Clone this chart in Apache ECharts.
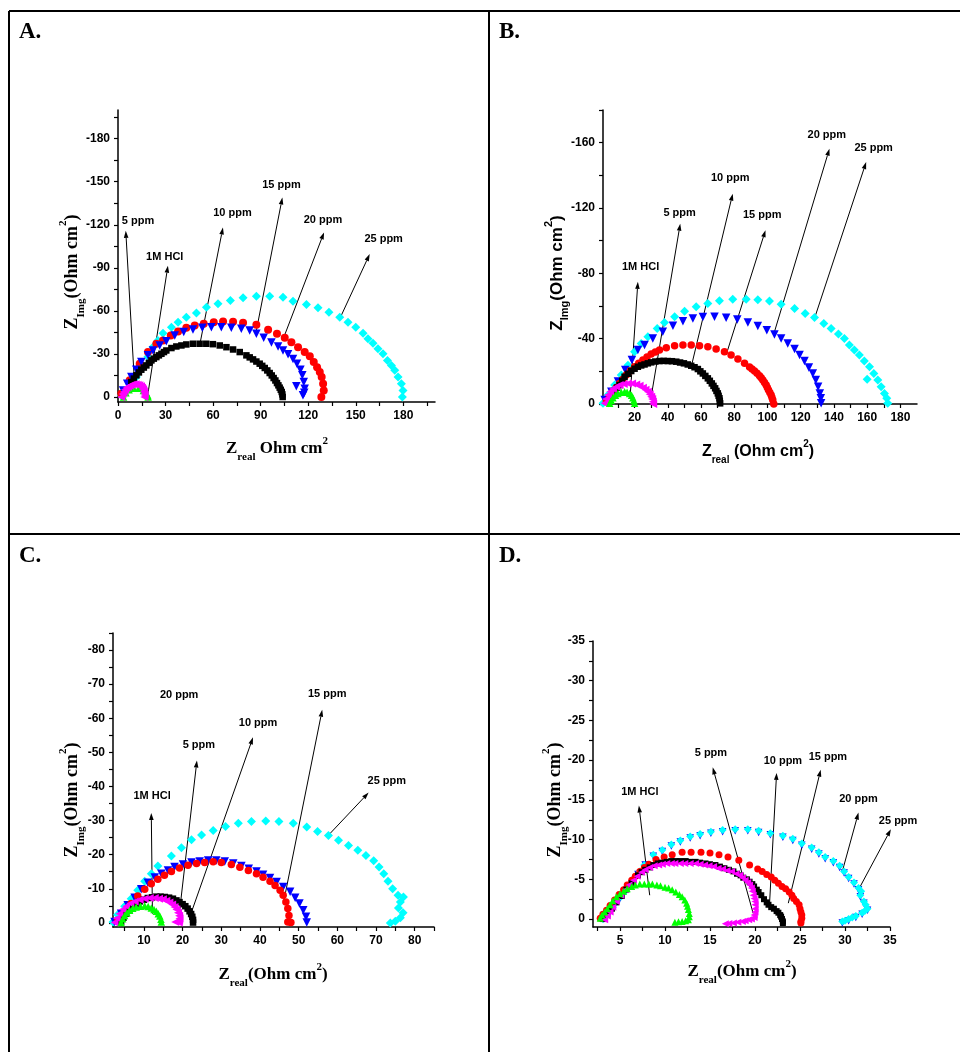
<!DOCTYPE html>
<html>
<head>
<meta charset="utf-8">
<script src="https://cdn.jsdelivr.net/npm/echarts@6/dist/echarts.min.js"></script>
<style>
  html, body { margin: 0; padding: 0; background: #fff; }
  #chart { width: 960px; height: 1052px; }
</style>
</head>
<body>
<div id="chart"></div>
<script>
// ---- Panel A data: [Zreal, Zimg] ----
var a_hcl = [[3.5,0],[5,-3],[7,-5],[10,-6],[13,-6],[16,-4.5],[18,-2.5],[18.8,-1],[19,0]];
var a_5ppm = [[2.1,0],[2.8,-2],[3.6,-3.5],[4.4,-5],[5.3,-6.3],[6.3,-7.2],[7.4,-7.9],[8.6,-8.5],[9.9,-8.8],[11.2,-8.8],[12.4,-8.6],[13.5,-8.1],[14.5,-7.4],[15.2,-6.4],[15.8,-5.3],[16.3,-4.0],[16.6,-2.8],[16.8,-1.4],[16.6,0]];
var a_10ppm = [[8.4,-10.4],[10.0,-12.8],[11.6,-15.1],[13.2,-17.1],[14.7,-19.0],[16.3,-20.5],[17.9,-22.0],[19.5,-23.8],[21.1,-25.5],[22.6,-26.7],[24.2,-27.8],[25.8,-29.0],[27.4,-30.1],[29.0,-31.3],[30.5,-32.4],[33.7,-34.1],[36.8,-35.2],[40.0,-35.9],[43.1,-36.6],[47.3,-37.1],[51.5,-37.1],[55.7,-37.1],[59.9,-36.8],[64.2,-35.9],[68.4,-34.7],[72.6,-33.1],[76.8,-31.3],[81.0,-29.0],[83.1,-27.6],[85.2,-26.2],[87.3,-24.7],[89.4,-23.2],[91.0,-21.7],[92.6,-20.2],[94.2,-18.5],[95.7,-16.7],[97.0,-15.0],[98.2,-13.2],[99.3,-11.5],[100.3,-9.7],[101.2,-8.1],[102.0,-6.5],[102.7,-5.0],[103.3,-3.5],[103.7,-1.8],[103.9,0]];
var a_15ppm = [[3.2,-4.6],[5.8,-9.2],[8.4,-13.9],[11.5,-19.0],[14.7,-24.3],[18.9,-29.0],[22.1,-32.4],[26.3,-35.9],[30.5,-38.9],[35.8,-42.9],[41.5,-45.2],[47.3,-47.0],[53.2,-48.2],[58.9,-48.6],[65.2,-48.6],[71.5,-48.2],[77.8,-47.5],[83.1,-46.3],[87.3,-44.0],[91.9,-41.2],[96.8,-38.0],[101.0,-35.2],[104.1,-32.4],[107.3,-29.7],[110.4,-26.4],[112.9,-23.2],[115.1,-19.0],[116.3,-15.1],[117.2,-10.4],[117.8,-5.8],[117.5,-3.0],[116.7,-1.2],[112.5,-7.4]];
var a_20ppm = [[2.1,-2.3],[7.4,-11.6],[13.7,-23.2],[18.9,-31.3],[24.2,-37.1],[28.4,-39.4],[33.3,-42.9],[37.9,-45.6],[43.1,-48.2],[48.4,-49.8],[54.1,-51.0],[60.4,-52.1],[66.3,-52.6],[72.6,-52.4],[78.9,-51.7],[87.3,-50.3],[94.7,-46.8],[100.3,-44.0],[105.2,-41.2],[109.4,-38.2],[113.6,-34.7],[117.8,-31.3],[121.0,-28.3],[123.5,-24.3],[125.6,-20.8],[127.3,-17.4],[128.5,-13.9],[129.4,-9.3],[129.8,-4.6],[128.3,0]];
var a_25ppm = [[2.1,-1.2],[4.2,-3.6],[7.4,-7.0],[11.6,-13.9],[15.8,-20.9],[18.9,-28.0],[22.1,-34.8],[25.2,-39.4],[28.4,-44.5],[33.7,-48.6],[37.9,-52.1],[43.1,-55.6],[49.5,-58.6],[55.8,-62.5],[63.1,-64.9],[70.9,-67.2],[78.9,-69.1],[87.3,-70.2],[95.7,-70.2],[104.1,-69.5],[110.4,-66.7],[118.9,-64.4],[126.2,-62.1],[133.1,-59.1],[139.9,-55.6],[145.1,-52.1],[150.0,-48.6],[154.6,-44.5],[157.7,-40.6],[160.9,-37.5],[164.0,-33.6],[167.2,-30.2],[170.0,-25.5],[172.5,-22.0],[174.6,-18.6],[176.7,-13.9],[178.8,-9.3],[179.8,-4.6],[179.4,0]];

// ---- Panel B data ----
var b_hcl = [[5.0,-0.4],[6.0,-2.2],[7.0,-3.9],[8.5,-5.3],[10.0,-6.5],[12.0,-7.2],[14.0,-7.5],[15.5,-7.2],[17.0,-6.5],[18.2,-5.3],[19.0,-3.9],[19.6,-2.2],[20.0,-0.4]];
var b_5ppm = [[2.0,-0.4],[2.8,-3.0],[4.0,-5.5],[5.4,-7.5],[7.0,-9.2],[9.0,-10.5],[11.0,-11.6],[13.5,-12.3],[16.0,-12.6],[18.5,-12.5],[21.0,-12.0],[23.0,-11.2],[25.0,-10.0],[26.6,-8.8],[28.0,-7.5],[29.1,-6.0],[30.0,-4.5],[30.6,-3.0],[31.0,-1.4],[31.2,0]];
var b_10ppm = [[8,-8],[9.5,-10],[11.0,-11.6],[12.5,-14.2],[14.0,-16.7],[16.0,-18.5],[18.0,-20.2],[20.0,-21.6],[22.0,-22.8],[24.0,-23.6],[26.0,-24.2],[28.0,-24.9],[30.0,-25.5],[32.5,-26.0],[35.0,-26.3],[37.5,-26.4],[40.0,-26.3],[42.5,-26.2],[45.1,-25.9],[47.4,-25.4],[49.7,-24.9],[52.0,-24.2],[54.1,-23.4],[56.1,-22.5],[58.1,-21.4],[59.6,-20.0],[61.1,-18.7],[62.6,-17.2],[64.1,-15.7],[65.3,-14.2],[66.5,-12.6],[67.5,-11.1],[68.5,-9.6],[69.3,-8.0],[70.1,-6.5],[70.6,-5.0],[71.1,-3.5],[71.3,-2.0],[71.5,-0.4]];
var b_15ppm = [[3.0,-1.4],[5.0,-4.5],[7.0,-7.5],[9.0,-10.1],[11.0,-12.6],[13.0,-15.2],[15.0,-17.7],[17.5,-20.3],[20.0,-22.8],[22.5,-25.0],[25.0,-26.9],[27.5,-28.8],[30.0,-30.6],[32.5,-31.9],[35.0,-33.0],[39.1,-34.4],[44.1,-35.7],[49.1,-36.1],[54.1,-36.1],[59.1,-35.7],[64.1,-35.0],[69.1,-33.6],[74.1,-32.0],[78.1,-30.0],[82.2,-27.5],[86.2,-24.9],[89.2,-22.6],[90.7,-21.4],[92.2,-20.2],[93.7,-18.8],[95.2,-17.3],[96.2,-16.0],[97.2,-14.7],[98.2,-13.2],[99.2,-11.6],[99.9,-10.1],[100.6,-8.6],[101.4,-7.0],[102.2,-5.5],[102.7,-4.0],[103.2,-2.4],[103.8,0]];
var b_20ppm = [[2.0,-2.4],[6.0,-7.5],[10.0,-13.7],[14.4,-20.8],[18.4,-26.9],[22.0,-33.0],[26.0,-36.1],[31.0,-40.1],[37.0,-44.2],[43.1,-47.9],[49.1,-50.7],[55.1,-52.4],[61.1,-53.2],[68.1,-53.4],[75.1,-52.8],[81.8,-51.8],[88.2,-49.9],[94.2,-47.7],[99.6,-45.2],[104.2,-42.6],[108.2,-40.1],[112.2,-37.1],[116.3,-33.6],[119.3,-30.0],[122.3,-26.3],[124.9,-22.4],[127.3,-18.7],[129.1,-14.7],[130.5,-10.6],[131.5,-6.5],[132.1,-3.5],[132.3,-0.4]];
var b_25ppm = [[1.0,-0.4],[4.0,-5.5],[8.0,-11.6],[12.0,-17.7],[16.0,-23.8],[20.0,-32.0],[24.0,-37.1],[28.0,-41.2],[33.6,-46.3],[38.0,-49.9],[44.1,-53.4],[50.1,-56.8],[57.1,-59.5],[64.1,-61.5],[71.1,-63.2],[79.1,-64.2],[87.2,-64.2],[94.2,-63.8],[101.2,-63.0],[108.2,-61.1],[116.3,-58.5],[122.7,-55.4],[128.3,-53.0],[133.9,-49.3],[138.3,-46.3],[142.7,-42.8],[146.3,-40.1],[149.3,-36.1],[152.3,-33.0],[155.3,-30.0],[158.3,-26.3],[161.4,-22.8],[164.0,-18.7],[166.4,-14.7],[168.4,-10.6],[170.4,-6.5],[171.8,-3.5],[172.4,-0.4],[160.0,-15.1]];

// ---- Panel C data ----
var c_hcl = [[4.1,-0.1],[4.5,-1.2],[5.0,-2.2],[5.6,-3.0],[6.3,-3.7],[7.1,-4.3],[8.0,-4.7],[9.1,-4.9],[10.2,-5.0],[11.1,-4.8],[11.9,-4.4],[12.6,-3.9],[13.2,-3.4],[13.7,-2.7],[14.1,-2.0],[14.4,-1.1],[14.5,-0.3]];
var c_5ppm = [[2.4,-0.1],[3.0,-1.4],[3.7,-2.7],[4.5,-3.9],[5.4,-4.9],[6.5,-5.7],[7.6,-6.3],[8.9,-6.8],[10.2,-7.1],[11.5,-7.3],[12.8,-7.3],[13.9,-7.1],[14.9,-6.9],[15.8,-6.5],[16.6,-6.0],[17.3,-5.4],[17.9,-4.7],[18.4,-3.9],[18.8,-3.0],[19.1,-2.1],[19.2,-1.3],[19.1,-0.6],[19.0,-0.1],[18.1,-0.3]];
var c_10ppm = [[4.1,-0.3],[4.7,-1.5],[5.4,-2.7],[6.2,-3.8],[7.1,-4.9],[8.0,-5.6],[8.9,-6.3],[10.0,-6.8],[11.0,-7.3],[12.1,-7.5],[13.2,-7.7],[14.3,-7.7],[15.4,-7.6],[16.5,-7.4],[17.5,-7.1],[18.4,-6.6],[19.2,-6.1],[20.0,-5.5],[20.7,-4.9],[21.3,-4.2],[21.8,-3.4],[22.2,-2.6],[22.5,-1.8],[22.7,-0.9],[22.7,-0.1]];
var c_15ppm = [[3.2,-0.8],[5.0,-3.2],[6.7,-5.7],[8.4,-7.9],[10.2,-9.9],[11.9,-11.5],[13.6,-12.8],[15.3,-14.0],[17.1,-15.1],[19.2,-16.1],[21.4,-16.9],[23.6,-17.4],[25.7,-17.7],[27.9,-17.9],[30.0,-17.7],[32.6,-17.1],[34.8,-16.3],[37.0,-15.4],[39.1,-14.4],[40.8,-13.4],[42.6,-12.2],[43.9,-11.0],[45.2,-9.6],[46.0,-8.1],[46.7,-6.1],[47.2,-4.2],[47.5,-2.2],[47.2,-0.3],[48.0,-0.1]];
var c_20ppm = [[2.4,-0.3],[4.1,-2.7],[5.8,-5.2],[7.6,-7.4],[9.3,-9.9],[11.0,-11.8],[12.8,-13.3],[14.5,-14.4],[16.2,-15.4],[17.9,-16.4],[20.1,-17.1],[22.3,-17.7],[24.4,-18.0],[26.6,-18.3],[28.7,-18.3],[30.9,-18.0],[33.1,-17.4],[35.2,-16.7],[37.1,-15.9],[39.1,-15.1],[40.8,-14.1],[42.6,-13.2],[44.3,-12.0],[46.0,-10.5],[47.8,-9.1],[49.1,-7.4],[50.2,-5.7],[51.2,-3.7],[51.9,-1.8],[52.1,-0.1]];
var c_25ppm = [[2.0,-0.3],[3.2,-2.4],[5.0,-4.9],[6.7,-7.1],[8.4,-9.6],[10.2,-12.2],[11.9,-14.4],[13.6,-16.7],[17.1,-19.6],[19.7,-22.0],[22.3,-24.4],[24.9,-25.8],[27.9,-27.1],[31.1,-28.3],[34.4,-29.2],[37.8,-29.7],[41.5,-29.9],[44.9,-29.7],[48.6,-29.2],[52.1,-28.1],[54.9,-26.8],[57.7,-25.6],[60.3,-24.2],[62.9,-22.7],[65.3,-21.3],[67.4,-19.8],[69.4,-18.2],[70.8,-16.4],[72.0,-14.4],[73.1,-12.2],[74.3,-10.0],[75.7,-8.1],[77.1,-7.6],[76.3,-6.1],[75.8,-4.4],[77.0,-3.0],[76.3,-1.5],[75.0,-0.5],[73.7,0]];

// ---- Panel D data ----
var d_hcl = [[2.8,-0.1],[3.0,-0.5],[3.3,-0.9],[3.6,-1.3],[3.9,-1.8],[4.2,-2.3],[4.6,-2.8],[5.0,-3.2],[5.4,-3.5],[5.8,-3.8],[6.3,-4.1],[6.7,-4.3],[7.2,-4.4],[7.7,-4.4],[8.2,-4.4],[8.6,-4.4],[9.1,-4.3],[9.5,-4.2],[10.0,-4.0],[10.4,-3.9],[10.8,-3.7],[11.2,-3.4],[11.6,-3.1],[11.9,-2.8],[12.2,-2.4],[12.4,-2.0],[12.5,-1.6],[12.6,-1.2],[12.7,-0.7],[12.7,-0.3],[12.6,0.1],[12.3,0.2],[11.9,0.3],[11.5,0.35],[11.1,0.4]];
var d_5ppm = [[3.3,0.1],[3.6,-0.4],[3.9,-0.9],[4.2,-1.5],[4.6,-2.2],[5.1,-3.0],[5.6,-3.7],[6.0,-4.3],[6.5,-4.9],[6.9,-5.4],[7.4,-5.9],[7.8,-6.2],[8.3,-6.5],[8.8,-6.7],[9.3,-6.8],[9.7,-6.9],[10.2,-7.0],[10.7,-7.0],[11.1,-7.0],[11.7,-7.0],[12.2,-7.0],[12.8,-7.0],[13.4,-7.0],[13.9,-6.9],[14.4,-6.8],[14.9,-6.7],[15.4,-6.6],[15.9,-6.4],[16.4,-6.3],[16.9,-6.1],[17.4,-6.0],[17.9,-5.7],[18.3,-5.5],[18.6,-5.2],[18.9,-4.9],[19.2,-4.6],[19.4,-4.3],[19.6,-3.9],[19.7,-3.5],[19.8,-3.0],[19.9,-2.6],[20.0,-2.2],[20.0,-1.8],[20.0,-1.3],[20.0,-0.9],[19.9,-0.5],[19.9,-0.2],[19.6,0],[19.3,0.1],[18.9,0.2],[18.6,0.3],[18.1,0.4],[17.6,0.5],[17.1,0.55],[16.7,0.6]];
var d_10ppm = [[3.1,0],[3.6,-0.6],[4.1,-1.3],[4.6,-2.1],[5.2,-2.9],[5.7,-3.7],[6.3,-4.5],[7.0,-5.5],[7.4,-5.9],[7.8,-6.2],[8.3,-6.5],[8.7,-6.8],[9.2,-7.0],[9.6,-7.1],[10.2,-7.2],[10.7,-7.3],[11.2,-7.3],[11.7,-7.3],[12.3,-7.3],[12.8,-7.2],[13.4,-7.2],[13.9,-7.1],[14.5,-7.0],[15.0,-6.9],[15.6,-6.8],[16.1,-6.6],[16.6,-6.4],[17.1,-6.2],[17.6,-6.0],[18.0,-5.7],[18.4,-5.5],[18.7,-5.2],[19.1,-5.0],[19.4,-4.7],[19.7,-4.4],[19.9,-4.1],[20.2,-3.7],[20.4,-3.4],[20.7,-3.0],[21.0,-2.5],[21.3,-2.1],[21.5,-1.8],[21.8,-1.5],[22.1,-1.3],[22.4,-1.0],[22.6,-0.8],[22.8,-0.5],[22.9,-0.3],[23.0,0],[23.1,0.3],[23.1,0.5]];
var d_15ppm = [[2.8,-0.1],[3.1,-0.6],[3.5,-1.1],[3.9,-1.7],[4.4,-2.4],[4.9,-3.1],[5.4,-3.7],[5.8,-4.3],[6.3,-4.9],[6.7,-5.4],[7.2,-6.0],[7.7,-6.5],[8.2,-6.9],[9.0,-7.5],[9.9,-7.8],[10.8,-8.1],[11.9,-8.4],[12.9,-8.4],[14.0,-8.4],[15.0,-8.3],[16.0,-8.1],[17.0,-7.8],[18.2,-7.4],[19.4,-6.8],[20.3,-6.3],[20.8,-6.0],[21.3,-5.6],[21.8,-5.3],[22.2,-4.9],[22.6,-4.5],[23.0,-4.1],[23.4,-3.8],[23.8,-3.4],[24.1,-3.0],[24.3,-2.6],[24.6,-2.2],[24.9,-1.8],[25.0,-1.3],[25.1,-0.9],[25.2,-0.5],[25.2,-0.1],[25.1,0.3],[25.1,0.5]];
var d_20ppm = [[3.2,0],[4.0,-1.2],[5.0,-2.6],[6.0,-4.1],[7.0,-5.6],[7.8,-6.8],[8.7,-7.9],[9.7,-8.5],[10.7,-9.2],[11.7,-9.7],[12.8,-10.2],[13.9,-10.5],[15.1,-10.8],[16.4,-11.0],[17.8,-11.1],[19.2,-11.1],[20.4,-10.9],[21.7,-10.6],[23.1,-10.3],[24.2,-9.9],[25.2,-9.3],[26.3,-8.8],[27.1,-8.2],[27.8,-7.6],[28.7,-7.1],[29.4,-6.5],[29.9,-5.8],[30.4,-5.1],[31.0,-4.4],[31.5,-3.7],[31.7,-2.8],[32.1,-2.0],[32.5,-1.1],[31.9,-0.6],[31.2,-0.2],[30.4,0.2],[29.7,0.5]];
var d_25ppm = [[3.1,0],[3.5,-0.5],[3.9,-1.0],[4.2,-1.5],[4.6,-2.1],[5.1,-2.8],[5.6,-3.5],[6.1,-4.4],[6.7,-5.3],[7.2,-6.0],[7.7,-6.8],[8.7,-8.1],[9.7,-8.7],[10.7,-9.4],[11.7,-9.9],[12.8,-10.4],[13.9,-10.7],[15.1,-11.0],[16.4,-11.2],[17.8,-11.3],[19.2,-11.3],[20.4,-11.1],[21.7,-10.8],[23.1,-10.5],[24.2,-10.1],[25.2,-9.5],[26.3,-9.0],[27.1,-8.4],[27.8,-7.8],[28.7,-7.3],[29.4,-6.7],[29.9,-6.0],[30.4,-5.3],[31.0,-4.6],[31.5,-3.9],[31.8,-3.5],[31.7,-3.0],[32.1,-2.2],[32.3,-1.8],[32.5,-1.3],[32.2,-1.0],[31.9,-0.8],[31.2,-0.4],[30.8,-0.2],[30.4,0],[30.0,0.2],[29.7,0.3]];

// ---- tick values ----
var ticksA_xLabels = [0, 30, 60, 90, 120, 150, 180];
var ticksA_x = [0, 15, 30, 45, 60, 75, 90, 105, 120, 135, 150, 165, 180, 195];
var ticksA_yLabels = [0, -30, -60, -90, -120, -150, -180];
var ticksA_y = [0, -15, -30, -45, -60, -75, -90, -105, -120, -135, -150, -165, -180, -195];
var ticksB_xLabels = [20, 40, 60, 80, 100, 120, 140, 160, 180];
var ticksB_x = [10, 20, 30, 40, 50, 60, 70, 80, 90, 100, 110, 120, 130, 140, 150, 160, 170, 180];
var ticksB_yLabels = [0, -40, -80, -120, -160];
var ticksB_y = [0, -20, -40, -60, -80, -100, -120, -140, -160, -180];
var ticksC_xLabels = [10, 20, 30, 40, 50, 60, 70, 80];
var ticksC_x = [5, 10, 15, 20, 25, 30, 35, 40, 45, 50, 55, 60, 65, 70, 75, 80, 85];
var ticksC_yLabels = [0, -10, -20, -30, -40, -50, -60, -70, -80];
var ticksC_y = [0, -5, -10, -15, -20, -25, -30, -35, -40, -45, -50, -55, -60, -65, -70, -75, -80, -85];
var ticksD_xLabels = [5, 10, 15, 20, 25, 30, 35];
var ticksD_x = [2.5, 5, 7.5, 10, 12.5, 15, 17.5, 20, 22.5, 25, 27.5, 30, 32.5, 35];
var ticksD_yLabels = [0, -5, -10, -15, -20, -25, -30, -35];
var ticksD_y = [0, -2.5, -5, -7.5, -10, -12.5, -15, -17.5, -20, -22.5, -25, -27.5, -30, -32.5, -35];

// ---- annotations: label text, label position, arrow from -> to (data units) ----
var notesA = [
  ['5 ppm', [12.6, -122.8], [10.5, -8.1], [4.9, -115.8]],
  ['1M HCl', [29.5, -97.3], [18.9, -2.4], [31.5, -91.5]],
  ['10 ppm', [72.2, -127.9], [51.5, -35.9], [66.2, -118.1]],
  ['15 ppm', [103.1, -147.8], [87.3, -46.3], [103.7, -139.0]],
  ['20 ppm', [129.3, -123.3], [104.5, -41.3], [130.0, -114.7]],
  ['25 ppm', [167.6, -110.1], [139.9, -54.5], [158.8, -99.6]]
];
var notesB = [
  ['1M HCl', [23.6, -83.9], [17.4, -5.5], [22.0, -74.8]],
  ['5 ppm', [47.1, -116.9], [30.0, -4.5], [47.5, -110.4]],
  ['10 ppm', [77.6, -138.3], [54.1, -22.8], [79.1, -128.8]],
  ['15 ppm', [96.8, -115.5], [75.1, -30.0], [98.8, -106.4]],
  ['20 ppm', [135.7, -164.8], [104.2, -44.2], [137.3, -156.3]],
  ['25 ppm', [163.9, -156.7], [128.3, -52.4], [159.4, -148.1]]
];
var notesC = [
  ['20 ppm', [19.1, -66.9], null, null],
  ['5 ppm', [24.2, -52.2], [19.1, -2.3], [23.7, -47.6]],
  ['1M HCl', [12.1, -37.2], [12.2, -2.7], [11.9, -32.2]],
  ['10 ppm', [39.5, -58.6], [22.3, -3.2], [38.2, -54.4]],
  ['15 ppm', [57.4, -67.1], [46.2, -6.6], [56.1, -62.5]],
  ['25 ppm', [72.8, -41.6], [57.7, -25.7], [68.1, -38.2]]
];
var notesD = [
  ['1M HCl', [7.2, -16.0], [8.3, -3.0], [7.1, -14.3]],
  ['5 ppm', [15.1, -20.9], [19.8, -0.7], [15.3, -19.1]],
  ['10 ppm', [23.1, -19.9], [21.6, -1.6], [22.4, -18.4]],
  ['15 ppm', [28.1, -20.4], [23.7, -2.0], [27.3, -18.8]],
  ['20 ppm', [31.5, -15.1], [29.7, -6.0], [31.5, -13.4]],
  ['25 ppm', [35.9, -12.3], [31.5, -3.7], [35.1, -11.3]]
];

// marker styles
var CYAN = '#00ffff', RED = '#ff0000', BLUE = '#0000ff', BLACK = '#000000', MAGENTA = '#ff00ff', GREEN = '#00ff00';
function mk(data, color, symbol, rotate, size) {
  return { data: data, color: color, symbol: symbol, rotate: rotate, size: size };
}

var panels = [
  {
    grid: { left: 118, top: 110, width: 317, height: 292 },
    x: { min: 0, max: 200, labels: ticksA_xLabels, ticks: ticksA_x },
    y: { min: -200, max: 3.5, labels: ticksA_yLabels, ticks: ticksA_y },
    series: [
      mk(a_25ppm, CYAN, 'diamond', 0, 9),
      mk(a_20ppm, RED, 'circle', 0, 8),
      mk(a_15ppm, BLUE, 'triangle', 180, 8.5),
      mk(a_10ppm, BLACK, 'rect', 0, 6.5),
      mk(a_hcl, GREEN, 'triangle', 0, 7.5),
      mk(a_5ppm, MAGENTA, 'triangle', 90, 8)
    ],
    notes: notesA
  },
  {
    grid: { left: 603, top: 110, width: 314, height: 294 },
    x: { min: 1, max: 190, labels: ticksB_xLabels, ticks: ticksB_x },
    y: { min: -180, max: 0, labels: ticksB_yLabels, ticks: ticksB_y },
    series: [
      mk(b_25ppm, CYAN, 'diamond', 0, 9),
      mk(b_20ppm, BLUE, 'triangle', 180, 8.5),
      mk(b_15ppm, RED, 'circle', 0, 7.5),
      mk(b_10ppm, BLACK, 'rect', 0, 6.5),
      mk(b_5ppm, MAGENTA, 'triangle', 90, 8),
      mk(b_hcl, GREEN, 'triangle', 0, 7.5)
    ],
    notes: notesB
  },
  {
    grid: { left: 113, top: 633, width: 321, height: 294 },
    x: { min: 2, max: 85, labels: ticksC_xLabels, ticks: ticksC_x },
    y: { min: -85, max: 1.2, labels: ticksC_yLabels, ticks: ticksC_y },
    series: [
      mk(c_25ppm, CYAN, 'diamond', 0, 9),
      mk(c_20ppm, BLUE, 'triangle', 180, 8.5),
      mk(c_15ppm, RED, 'circle', 0, 7.5),
      mk(c_10ppm, BLACK, 'rect', 0, 6.5),
      mk(c_5ppm, MAGENTA, 'triangle', 90, 8),
      mk(c_hcl, GREEN, 'triangle', 0, 7.5)
    ],
    notes: notesC
  },
  {
    grid: { left: 593, top: 641, width: 297, height: 286 },
    x: { min: 2, max: 35, labels: ticksD_xLabels, ticks: ticksD_x },
    y: { min: -35, max: 1, labels: ticksD_yLabels, ticks: ticksD_y },
    series: [
      mk(d_20ppm, BLUE, 'triangle', 180, 7.5),
      mk(d_25ppm, CYAN, 'diamond', 0, 8),
      mk(d_15ppm, RED, 'circle', 0, 7),
      mk(d_10ppm, BLACK, 'rect', 0, 6),
      mk(d_5ppm, MAGENTA, 'triangle', 90, 7),
      mk(d_hcl, GREEN, 'triangle', 0, 7)
    ],
    notes: notesD
  }
];

var tickFont = 'Liberation Sans';

var option = { animation: false, grid: [], xAxis: [], yAxis: [], series: [] };

panels.forEach(function (p, i) {
  option.grid.push({ left: p.grid.left, top: p.grid.top, width: p.grid.width, height: p.grid.height, containLabel: false, outerBoundsMode: 'none' });
  option.xAxis.push({
    type: 'value', gridIndex: i, min: p.x.min, max: p.x.max,
    axisLine: { onZero: false, lineStyle: { color: '#000', width: 1.5 } },
    axisTick: { customValues: p.x.ticks, length: 4, lineStyle: { color: '#000', width: 1.2 } },
    axisLabel: { customValues: p.x.labels, color: '#000', fontFamily: tickFont, fontWeight: 'bold', fontSize: 12, margin: 8 },
    splitLine: { show: false }
  });
  option.yAxis.push({
    type: 'value', gridIndex: i, min: p.y.min, max: p.y.max, inverse: true,
    axisLine: { onZero: false, lineStyle: { color: '#000', width: 1.5 } },
    axisTick: { customValues: p.y.ticks, length: 4, lineStyle: { color: '#000', width: 1.2 } },
    axisLabel: { customValues: p.y.labels, color: '#000', fontFamily: tickFont, fontWeight: 'bold', fontSize: 12, margin: 8 },
    splitLine: { show: false }
  });
  p.series.forEach(function (s) {
    option.series.push({
      type: 'scatter', xAxisIndex: i, yAxisIndex: i,
      data: s.data, symbol: s.symbol, symbolRotate: s.rotate, symbolSize: s.size,
      itemStyle: { color: s.color, opacity: 1 }, silent: true, clip: false
    });
  });
});

var chart = echarts.init(document.getElementById('chart'));
chart.setOption(option);

// ---- frame, panel letters, axis titles and arrows (graphic layer) ----
var g = [];

// table borders
g.push({ type: 'line', shape: { x1: 9, y1: 11, x2: 960, y2: 11 }, style: { stroke: '#000', lineWidth: 2 } });
g.push({ type: 'line', shape: { x1: 9, y1: 11, x2: 9, y2: 1052 }, style: { stroke: '#000', lineWidth: 2 } });
g.push({ type: 'line', shape: { x1: 489, y1: 11, x2: 489, y2: 1052 }, style: { stroke: '#000', lineWidth: 2 } });
g.push({ type: 'line', shape: { x1: 9, y1: 534, x2: 960, y2: 534 }, style: { stroke: '#000', lineWidth: 2 } });

function letter(t, x, y) {
  return { type: 'text', x: x, y: y, style: { text: t, font: 'bold 23px "Liberation Serif"', fill: '#000', textAlign: 'left', textVerticalAlign: 'middle', align: 'left', verticalAlign: 'middle' } };
}
g.push(letter('A.', 19, 32), letter('B.', 499, 32), letter('C.', 19, 556), letter('D.', 499, 556));

function richStyle(font, size) {
  var sub = Math.round(size * 0.62);
  return {
    z: { fontFamily: font, fontWeight: 'bold', fontSize: size, lineHeight: size * 1.6 },
    s: { fontFamily: font, fontWeight: 'bold', fontSize: sub, lineHeight: sub, verticalAlign: 'bottom' },
    p: { fontFamily: font, fontWeight: 'bold', fontSize: sub, lineHeight: sub, verticalAlign: 'top' }
  };
}
function title(txt, x, y, font, size, rotate) {
  return {
    type: 'text', x: x, y: y, rotation: rotate ? Math.PI / 2 : 0,
    style: { text: txt, rich: richStyle(font, size), fill: '#000', textAlign: 'center', textVerticalAlign: 'middle', align: 'center', verticalAlign: 'middle' }
  };
}
var serif = 'Liberation Serif', sans = 'Liberation Sans';
g.push(title('{z|Z}{s|real}{z| Ohm cm}{p|2}', 277, 449, serif, 17, false));
g.push(title('{z|Z}{s|Img}{z|(Ohm cm}{p|2}{z|)}', 72, 272, serif, 18, true));
g.push(title('{z|Z}{s|real}{z| (Ohm cm}{p|2}{z|)}', 758, 452, sans, 16, false));
g.push(title('{z|Z}{s|Img}{z|(Ohm cm}{p|2}{z|)}', 557, 273, sans, 17, true));
g.push(title('{z|Z}{s|real}{z|(Ohm cm}{p|2}{z|)}', 273, 975, serif, 17, false));
g.push(title('{z|Z}{s|Img}{z|(Ohm cm}{p|2}{z|)}', 72, 800, serif, 18, true));
g.push(title('{z|Z}{s|real}{z|(Ohm cm}{p|2}{z|)}', 742, 972, serif, 17, false));
g.push(title('{z|Z}{s|Img}{z|(Ohm cm}{p|2}{z|)}', 555, 800, serif, 18, true));

// arrows and concentration labels, placed through the axes
panels.forEach(function (p, i) {
  p.notes.forEach(function (n) {
    var at = chart.convertToPixel({ gridIndex: i }, n[1]);
    g.push({ type: 'text', x: at[0], y: at[1], style: { text: n[0], font: 'bold 11px "Liberation Sans"', fill: '#000', textAlign: 'center', textVerticalAlign: 'middle', align: 'center', verticalAlign: 'middle' } });
    if (!n[2]) return;
    var a = chart.convertToPixel({ gridIndex: i }, n[2]);
    var b = chart.convertToPixel({ gridIndex: i }, n[3]);
    var dx = b[0] - a[0], dy = b[1] - a[1];
    var len = Math.sqrt(dx * dx + dy * dy);
    var ux = dx / len, uy = dy / len;
    var hl = 7, hw = 2.3;
    var bx = b[0] - ux * hl, by = b[1] - uy * hl;
    g.push({ type: 'line', shape: { x1: a[0], y1: a[1], x2: bx, y2: by }, style: { stroke: '#000', lineWidth: 1 } });
    g.push({ type: 'polygon', shape: { points: [[b[0], b[1]], [bx - uy * hw, by + ux * hw], [bx + uy * hw, by - ux * hw]] }, style: { fill: '#000' } });
  });
});

chart.setOption({ graphic: { elements: g } });
</script>
</body>
</html>
